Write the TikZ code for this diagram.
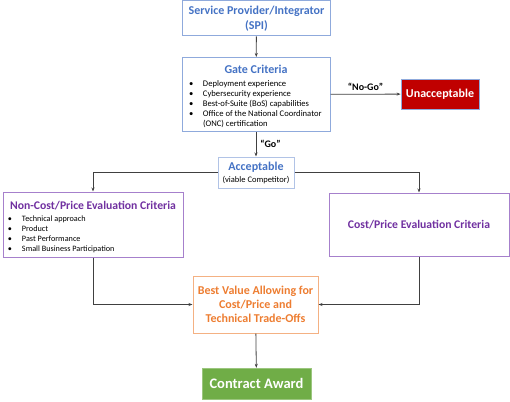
\documentclass[tikz,border=0pt]{standalone}
\usepackage{fontspec}
\setmainfont{Carlito}
\usetikzlibrary{arrows.meta}
\definecolor{spiblue}{HTML}{4472C4}
\definecolor{edgeblue}{HTML}{8FAADC}
\definecolor{critpurple}{HTML}{7030A0}
\definecolor{edgepurple}{HTML}{A680CC}
\definecolor{bvorange}{HTML}{ED7D31}
\definecolor{edgeorange}{HTML}{F4B183}
\definecolor{awardgreen}{HTML}{70AD47}
\definecolor{nogored}{HTML}{C00000}
\newcommand{\blt}{\makebox[14pt][l]{\textbullet}}
\begin{document}
\begin{tikzpicture}
[x=1pt,y=1pt,
  every node/.style={inner sep=2pt,align=center},
  bluebox/.style={draw=edgeblue,line width=1pt,text=spiblue,
    font=\bfseries\fontsize{12}{15}\selectfont},
  purplebox/.style={draw=edgepurple,line width=1pt,text=critpurple,
    font=\bfseries\fontsize{11.7}{13}\selectfont,minimum width=180pt},
  listbox/.style={align=left,text=black},
  golabel/.style={font=\bfseries\fontsize{10}{12}\selectfont},
  link/.style={-{Stealth[length=4pt,width=3pt]},line width=0.8pt,draw=black!75}]
\useasboundingbox (0,0) rectangle (510,-401);

\node[bluebox,minimum width=148pt,minimum height=35pt] (spi) at (256.5,-18.5)
  {Service Provider/Integrator\\(SPI)};
\node[bluebox,listbox,minimum width=148pt,minimum height=74pt,inner xsep=7pt,
  font=\mdseries\fontsize{8.6}{10.2}\selectfont] (gate) at (256,-94.5)
  {\makebox[134pt]{\color{spiblue}\bfseries\fontsize{12}{14}\selectfont
     \rule{0pt}{13pt}Gate Criteria}\\[2pt]
   \blt Deployment experience\\
   \blt Cybersecurity experience\\
   \blt Best-of-Suite (BoS) capabilities\\
   \blt Office of the National Coordinator\\
   \hspace*{14pt}(ONC) certification};
\node[draw=edgeblue,line width=0.8pt,fill=nogored,text=white,minimum width=78pt,
  minimum height=30pt,font=\bfseries\fontsize{12}{14}\selectfont] (unacc) at (440,-94)
  {Unacceptable};
\node[bluebox,draw=edgeblue!70,minimum width=76pt,minimum height=31pt,
  inner sep=1pt] (acc) at (256,-172.5)
  {Acceptable\\[-3pt]{\mdseries\color{black}\fontsize{8.5}{10}\selectfont(viable Competitor)}};

\node[purplebox,listbox,minimum height=65pt,inner xsep=5pt,
  font=\mdseries\fontsize{8.2}{10}\selectfont] (noncost) at (93,-224.5)
  {\makebox[170pt]{\color{critpurple}\bfseries\fontsize{11.7}{13}\selectfont
     \rule{0pt}{14pt}Non-Cost/Price Evaluation Criteria}\\[2pt]
   \blt Technical approach\\
   \blt Product\\
   \blt Past Performance\\
   \blt Small Business Participation};
\node[purplebox,minimum height=63pt] (cost) at (419,-224.5)
  {Cost/Price Evaluation Criteria};

\node[draw=edgeorange,line width=1pt,text=bvorange,minimum width=125pt,
  minimum height=57pt,font=\bfseries\fontsize{12}{14}\selectfont] (bv) at (255.5,-304.5)
  {Best Value Allowing for\\Cost/Price and\\Technical Trade-Offs};
\node[draw=awardgreen!70,fill=awardgreen,text=white,minimum width=109pt,
  minimum height=31pt,font=\bfseries\fontsize{14.5}{16}\selectfont] (award) at (256.5,-383.5)
  {Contract Award};

\draw[link] (spi) -- (gate);
\draw[link] (gate) -- node[golabel,above,yshift=1pt] (nogo) {“No-Go”} (unacc);
\draw[link] (gate) -- node[golabel,right,xshift=2pt] (go) {“Go”} (acc);
\draw[link] (acc) -| (noncost);
\draw[link] (acc) -| (cost);
\draw[link] (noncost) |- (bv);
\draw[link] (cost) |- (bv);
\draw[link] (bv) -- (award);
\end{tikzpicture}
\end{document}
